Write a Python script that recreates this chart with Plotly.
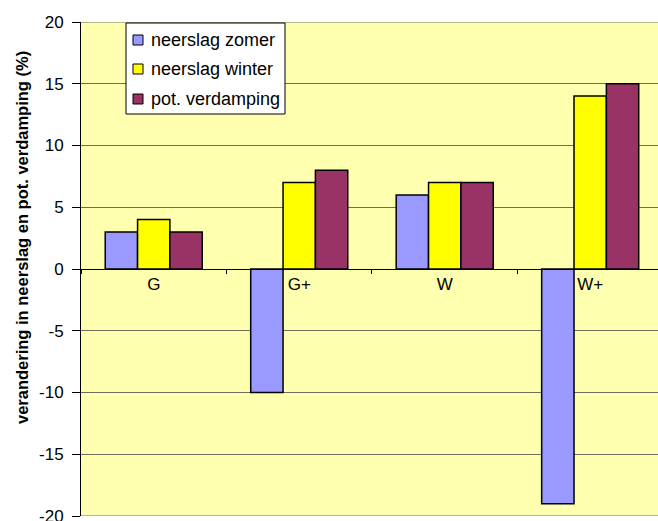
import plotly.graph_objects as go

# Scenario categories and the change per quantity (%)
scenarios = ["G", "G+", "W", "W+"]
neerslag_zomer = [3, -10, 6, -19]
neerslag_winter = [4, 7, 7, 14]
pot_verdamping = [3, 8, 7, 15]

series_names = ["neerslag zomer", "neerslag winter", "pot. verdamping"]
series_values = [neerslag_zomer, neerslag_winter, pot_verdamping]
series_colors = ["#9999FF", "#FFFF00", "#993366"]

y_ticks = [20, 15, 10, 5, 0, -5, -10, -15, -20]
y_ticklabels = [str(v) for v in y_ticks]  # plain hyphen for negatives

FONT = "Arial, Liberation Sans, sans-serif"
GRID = "#6E6E5A"

W, H = 658, 521
ML, MR, MT, MB = 81, 0, 22, 5
PW, PH = W - ML - MR, H - MT - MB


def px_x(px):
    """Horizontal pixel position -> paper fraction."""
    return (px - ML) / PW


def px_y(py):
    """Vertical pixel position (from top) -> paper fraction."""
    return (H - MB - py) / PH


fig = go.Figure()
for name, vals, col in zip(series_names, series_values, series_colors):
    fig.add_trace(go.Bar(
        x=scenarios, y=vals, name=name, showlegend=False,
        marker=dict(color=col, line=dict(color="black", width=1.5)),
    ))

# Boxed legend in the upper-left corner of the plot area
shapes = [
    dict(type="rect", xref="paper", yref="paper",
         x0=px_x(126), x1=px_x(285), y0=px_y(114), y1=px_y(23),
         fillcolor="white", line=dict(color="black", width=1), layer="above"),
]
annotations = []
row_y = [40, 69, 99]
for name, col, ry in zip(series_names, series_colors, row_y):
    shapes.append(dict(
        type="rect", xref="paper", yref="paper",
        x0=px_x(133), x1=px_x(143), y0=px_y(ry + 5), y1=px_y(ry - 5),
        fillcolor=col, line=dict(color="black", width=1), layer="above"))
    annotations.append(dict(
        text=name, xref="paper", yref="paper", x=px_x(149), y=px_y(ry),
        xanchor="left", yanchor="middle", showarrow=False,
        font=dict(family=FONT, size=18, color="black")))

# Grid lines along the top and bottom edges of the plot area
for v in (20, -20):
    shapes.append(dict(type="line", xref="paper", yref="y", x0=0, x1=1,
                       y0=v, y1=v, line=dict(color=GRID, width=1),
                       layer="below"))

annotations.append(dict(
    text="<b>verandering in neerslag en pot. verdamping (%)</b>",
    xref="paper", yref="paper", x=px_x(22), y=px_y(238),
    xanchor="center", yanchor="middle", textangle=-90,
    showarrow=False, font=dict(family=FONT, size=16.5, color="black"),
))

fig.update_layout(
    width=W, height=H, autosize=False,
    margin=dict(l=ML, r=MR, t=MT, b=MB),
    paper_bgcolor="white",
    plot_bgcolor="#FFFFB0",
    barmode="group", bargap=0.333, bargroupgap=0,
    font=dict(family=FONT, size=17, color="black"),
    showlegend=False,
    xaxis=dict(
        type="category", range=[-0.5, 3.466],
        anchor="free", position=0.5, automargin=False,
        showline=True, linecolor="black", linewidth=1,
        ticks="outside", tickson="boundaries", ticklen=4, tickcolor="black",
        showgrid=False, zeroline=False,
        tickfont=dict(family=FONT, size=17),
    ),
    yaxis=dict(
        range=[-20, 20], tickvals=y_ticks, ticktext=y_ticklabels,
        automargin=False,
        showline=True, linecolor="black", linewidth=1,
        ticks="outside", ticklen=8, tickcolor="black",
        ticklabelstandoff=5, ticklabeloverflow="allow",
        showgrid=True, gridcolor=GRID, gridwidth=1,
        zeroline=False,
        tickfont=dict(family=FONT, size=17),
    ),
    shapes=shapes,
    annotations=annotations,
)

fig.write_html("out.html")
